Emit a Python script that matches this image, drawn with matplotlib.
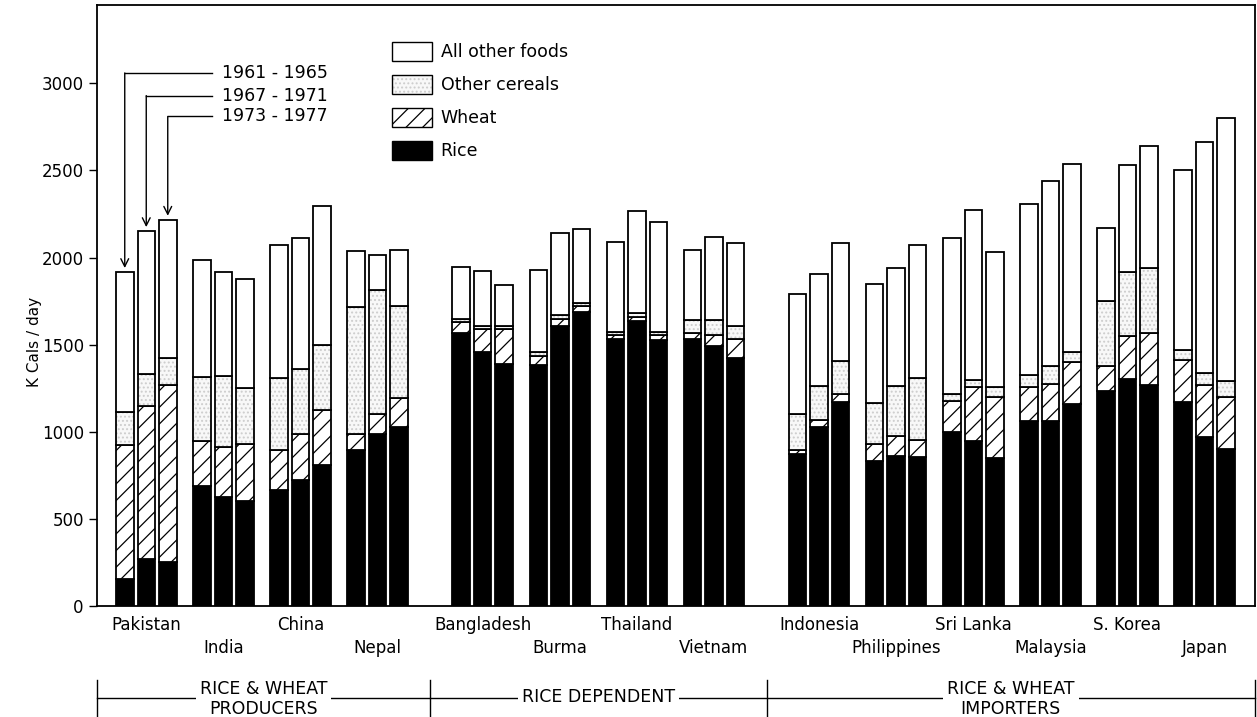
import matplotlib
matplotlib.use('agg')
import matplotlib.pyplot as plt
from matplotlib.patches import Patch
from matplotlib.legend_handler import HandlerTuple

countries = ['Pakistan', 'India', 'China', 'Nepal',
             'Bangladesh', 'Burma', 'Thailand', 'Vietnam',
             'Indonesia', 'Philippines', 'Sri Lanka', 'Malaysia', 'S. Korea', 'Japan']
country_group = [0, 0, 0, 0, 1, 1, 1, 1, 2, 2, 2, 2, 2, 2]
group_names = ['RICE & WHEAT\nPRODUCERS', 'RICE DEPENDENT', 'RICE & WHEAT\nIMPORTERS']
periods = ['1961 - 1965', '1967 - 1971', '1973 - 1977']

# K cals / day, one row per country, columns = the three periods
rice = [[155, 270, 250], [690, 625, 600], [665, 725, 810], [895, 985, 1030],
        [1565, 1460, 1390], [1385, 1610, 1690], [1530, 1635, 1525], [1535, 1490, 1425],
        [870, 1030, 1170], [830, 860, 855], [1000, 950, 850], [1060, 1060, 1160],
        [1235, 1305, 1270], [1170, 970, 900]]
wheat = [[770, 880, 1020], [255, 285, 330], [230, 265, 315], [95, 115, 165],
         [65, 130, 200], [50, 40, 30], [25, 25, 30], [30, 65, 110],
         [25, 40, 45], [100, 115, 100], [175, 305, 350], [200, 215, 240],
         [145, 245, 300], [240, 300, 300]]
other_cereals = [[190, 180, 155], [370, 410, 320], [415, 370, 375], [725, 715, 530],
                 [20, 15, 15], [25, 20, 20], [20, 20, 20], [75, 85, 70],
                 [210, 195, 190], [235, 290, 355], [40, 40, 60], [65, 100, 60],
                 [370, 365, 370], [60, 70, 90]]
other_foods = [[800, 820, 790], [670, 595, 625], [765, 750, 795], [320, 200, 320],
               [295, 320, 240], [470, 470, 425], [515, 585, 630], [405, 480, 480],
               [685, 640, 680], [685, 675, 765], [895, 980, 770], [985, 1065, 1080],
               [420, 615, 700], [1030, 1325, 1510]]

W, H = 1257, 717
fig = plt.figure(figsize=(W / 100, H / 100), dpi=100)
ax = fig.add_axes([97 / W, 111 / H, 1158 / W, 601 / H])
ax.set_xlim(97, 1255)
ax.set_ylim(0, 3450)

plt.rcParams['hatch.linewidth'] = 0.9

stipple = dict(color='#f8f8f8', edgecolor='#cdcdcd', hatch='....')

bar_w = 17.5
lefts = []
for g, s in enumerate(country_group):
    lefts.append([116 + 77.1 * g + 28 * s + 21.5 * k for k in range(3)])
xs = [l + bar_w / 2 for row in lefts for l in row]

layers = [
    (rice, dict(color='black', edgecolor='black', hatch=None)),
    (wheat, dict(color='white', edgecolor='black', hatch='//')),
    (other_cereals, stipple),
    (other_foods, dict(color='white', edgecolor='white', hatch=None)),
]
bottom = [0] * len(xs)
for data, st in layers:
    vals = [v for row in data for v in row]
    ax.bar(xs, vals, bottom=bottom, width=bar_w, linewidth=0, **st)
    ax.bar(xs, vals, bottom=bottom, width=bar_w, fill=False, edgecolor='black', linewidth=1.3)
    bottom = [b + v for b, v in zip(bottom, vals)]

# period call-outs on the Pakistan bars
levels = [3060, 2930, 2810]
for k in range(3):
    xc = lefts[0][k] + bar_w / 2
    top = bottom[k]
    ax.plot([212, xc], [levels[k], levels[k]], color='black', lw=1)
    ax.annotate('', xy=(xc, top + 25), xytext=(xc, levels[k]),
                arrowprops=dict(arrowstyle='->', lw=1, color='black',
                                shrinkA=0, shrinkB=0, mutation_scale=14))
    ax.text(222, levels[k], periods[k], va='center', ha='left', fontsize=12.5)

ax.set_xticks([])
ax.set_yticks(range(0, 3001, 500))
ax.tick_params(axis='y', direction='out', length=6, width=1, labelsize=12)
for sp in ax.spines.values():
    sp.set_linewidth(1.3)

handles = [Patch(facecolor='white', edgecolor='black'),
           (Patch(facecolor=stipple['color'], edgecolor=stipple['edgecolor'],
                  hatch=stipple['hatch'], linewidth=0),
            Patch(fill=False, edgecolor='black')),
           Patch(facecolor='white', edgecolor='black', hatch='//'),
           Patch(facecolor='black', edgecolor='black')]
ax.legend(handles, ['All other foods', 'Other cereals', 'Wheat', 'Rice'],
          handler_map={tuple: HandlerTuple(ndivide=1)},
          loc='upper left', bbox_to_anchor=((392 - 97) / 1158, (606 - 42) / 601),
          frameon=False, borderpad=0, borderaxespad=0, fontsize=12.5,
          handlelength=2.3, handleheight=1.27, handletextpad=0.5, labelspacing=0.8)

fig.text(35 / W, 1 - 342 / H, 'K Cals / day', rotation=90, ha='center', va='center', fontsize=11)

# country names and group brackets below the axes
bx = fig.add_axes([97 / W, 0, 1158 / W, 111 / H])
bx.set_xlim(97, 1255)
bx.set_ylim(0, 111)
bx.axis('off')
for g, name in enumerate(countries):
    xc = lefts[g][1] + bar_w / 2
    bx.text(xc, 92 if g % 2 == 0 else 69, name, ha='center', va='center', fontsize=12)

bounds = [97]
for g in range(len(countries) - 1):
    if country_group[g] != country_group[g + 1]:
        bounds.append((lefts[g][2] + bar_w + lefts[g + 1][0]) / 2)
bounds.append(1255)
bx.plot([bounds[0], bounds[-1]], [19, 19], color='black', lw=1, clip_on=False)
for b in bounds:
    bx.plot([b, b], [0, 37], color='black', lw=1, clip_on=False)
for i, name in enumerate(group_names):
    bx.text((bounds[i] + bounds[i + 1]) / 2, 18 if '\n' in name else 20, name,
            ha='center', va='center', fontsize=12.5, linespacing=1.2,
            bbox=dict(facecolor='white', edgecolor='none', pad=3))

fig.savefig('out.png', dpi=100)
